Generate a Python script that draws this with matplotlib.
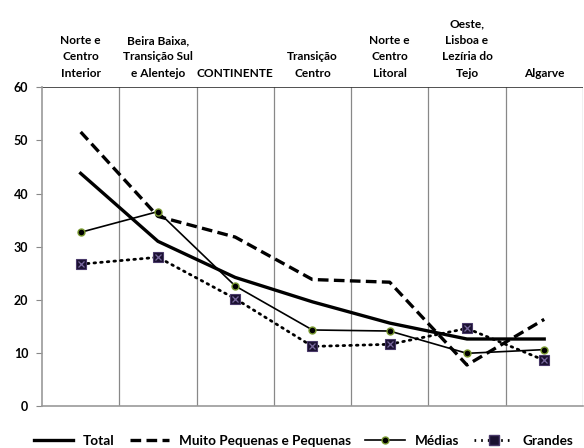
import matplotlib.pyplot as plt
from matplotlib.lines import Line2D

plt.rcParams['font.family'] = ['Lato', 'DejaVu Sans']

# categories (top labels) and series values
regioes = ["Norte e\nCentro\nInterior", "Beira Baixa,\nTransição Sul\ne Alentejo", "CONTINENTE",
           "Transição\nCentro", "Norte e\nCentro\nLitoral", "Oeste,\nLisboa e\nLezíria do\nTejo", "Algarve"]
total = [43.8, 31.0, 24.2, 19.6, 15.6, 12.6, 12.6]
muito_pequenas = [51.6, 35.7, 31.8, 23.8, 23.3, 7.7, 16.3]
medias = [32.7, 36.6, 22.6, 14.3, 14.1, 9.9, 10.6]
grandes = [26.7, 28.0, 20.2, 11.2, 11.6, 14.6, 8.6]
yticks = [0, 10, 20, 30, 40, 50, 60]

fig = plt.figure(figsize=(5.84, 4.48), dpi=100)
ax = fig.add_axes([0.072, 0.094, 0.926, 0.711])
x = list(range(len(regioes)))

ax.plot(x, total, color='black', lw=2.4, solid_joinstyle='round', zorder=3)
ax.plot(x, muito_pequenas, color='black', lw=2.4, ls=(0, (3.2, 1.6)), zorder=3)
ax.plot(x, medias, color='black', lw=1.2, marker='o', ms=5,
        mfc='black', mec='#7a9a30', mew=1.0, zorder=4)
ax.plot(x, grandes, color='black', lw=2.0, ls=(0, (0.6, 1.8)), dash_capstyle='round',
        marker='s', ms=7.5, mfc='#1a1030', mec='#4a3a6a', mew=0.8, zorder=4)
ax.plot(x, grandes, ls='none', marker='x', ms=5, mec='#7a6aa0', mew=0.9, zorder=5)

ax.set_xlim(-0.5, len(regioes) - 0.5)
ax.set_ylim(0, 60)
ax.set_yticks(yticks)
ax.set_yticklabels([str(v) for v in yticks], fontweight='bold', fontsize=9)
ax.tick_params(axis='y', length=4, color='#888888', pad=6)
ax.set_xticks([])

# vertical separators between categories
for b in range(len(regioes)):
    ax.axvline(b + 0.5, color='#888888', lw=0.9, zorder=1)
ax.axhline(60, color='#333333', lw=1.2, zorder=1)
for s in ['left', 'bottom']:
    ax.spines[s].set_color('#999999')
    ax.spines[s].set_linewidth(1.2)
ax.spines['top'].set_visible(False)
ax.spines['right'].set_visible(False)

for i, lab in enumerate(regioes):
    ax.text(i, 61.6, lab, ha='center', va='bottom', fontsize=8.6, fontweight='bold',
            linespacing=1.6)

handles = [
    Line2D([], [], color='black', lw=2.4),
    Line2D([], [], color='black', lw=2.4, ls=(0, (3.2, 1.6))),
    Line2D([], [], color='black', lw=1.2, marker='o', ms=5, mfc='black', mec='#7a9a30'),
    Line2D([], [], color='black', lw=2.0, ls=(0, (0.6, 1.8)), marker='s', ms=7,
           mfc='#1a1030', mec='#4a3a6a'),
]
fig.legend(handles, ["Total", "Muito Pequenas e Pequenas", "Médias", "Grandes"],
           loc='lower center', bbox_to_anchor=(0.52, -0.025), ncol=4, frameon=False,
           prop={'weight': 'bold', 'size': 9.8}, handlelength=2.9, columnspacing=1.1,
           handletextpad=0.7)

fig.savefig('out.png', dpi=100)
